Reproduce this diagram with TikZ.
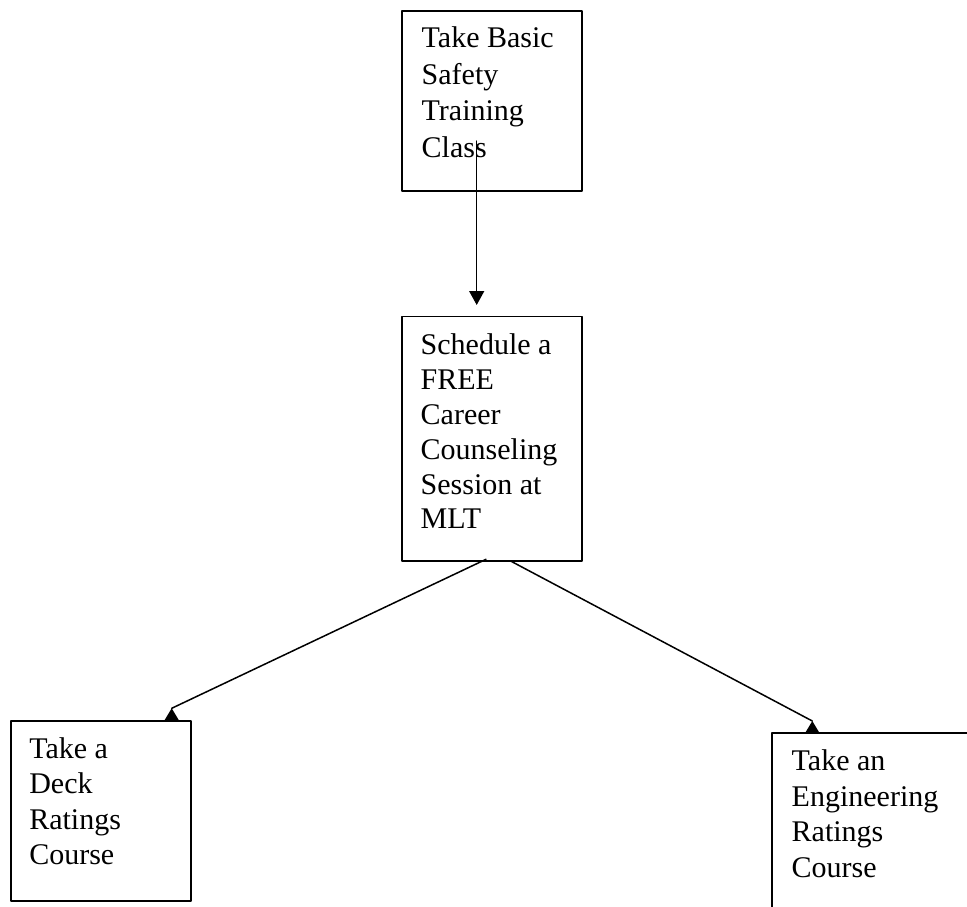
\documentclass[tikz,border=0pt]{standalone}
\usepackage{fontspec}
\setmainfont{Liberation Serif}
\usetikzlibrary{calc}
\usetikzlibrary{arrows.meta}
\usetikzlibrary{positioning}

\tikzset{
  stepbox/.style={draw, line width=1.8pt, inner sep=0pt, outer sep=0pt,
    minimum width=180pt, minimum height=180pt, anchor=north west},
  boxtext/.style={inner sep=0pt, outer sep=0pt, anchor=north west, align=left,
    font=\fontsize{30}{35.5}\selectfont},
  link/.style={line width=1.5pt},
  uptip/.pic={\fill (0,0) -- (-7.5,12.5) -- (7.5,12.5) -- cycle;}
}

\begin{document}
\begin{tikzpicture}[x=1pt, y=-1pt, line cap=round, line join=round, >={Triangle[length=14pt, width=15pt]}]
  \clip (0,0) rectangle (967,907);
  %--- Basic safety training
    \node[stepbox] (basic) at (401.7,10.7) {};
    \node[boxtext, font=\fontsize{30}{36.5}\selectfont, below right=16pt and 20pt of basic.north west] (basictxt)
      {Take Basic\\Safety\\Training\\Class};
  %--- Career counseling
    \node[stepbox, minimum width=180.6pt, minimum height=244.2pt] (sched) at (401.7,316.5) {};
    \node[boxtext, font=\fontsize{30}{34.8}\selectfont, below right=17.5pt and 19pt of sched.north west] (schedtxt)
      {Schedule a\\FREE\\Career\\Counseling\\Session at\\MLT};
  %--- Deck ratings
    \node[stepbox] (deck) at (10.7,721) {};
    \node[boxtext, below right=16.5pt and 18.6pt of deck.north west] (decktxt)
      {Take a\\Deck\\Ratings\\Course};
  %--- Engineering ratings
    \node[stepbox, minimum width=220pt, minimum height=220pt] (engine) at (771.7,733.3) {};
    \node[boxtext, below right=16.5pt and 20pt of engine.north west] (enginetxt)
      {Take an\\Engineering\\Ratings\\Course};
  %--- Links
    \coordinate (classEnd) at (476.7,141);
    \coordinate (schedTip) at ($(sched.north west)+(75,-11.5)$);
    \coordinate (deckTip) at ($(deck.north west)+(161,-12.7)$);
    \coordinate (engineTip) at ($(engine.north west)+(40.6,-12.3)$);
    \draw[link, ->] (classEnd) -- (schedTip);
    \draw[link] ($(sched.south)+(-6,-1.4)$) -- (deckTip);
    \draw[link] ($(sched.south)+(18,0)$) -- (engineTip);
    \pic at (deckTip) {uptip};
    \pic at (engineTip) {uptip};
\end{tikzpicture}
\end{document}
